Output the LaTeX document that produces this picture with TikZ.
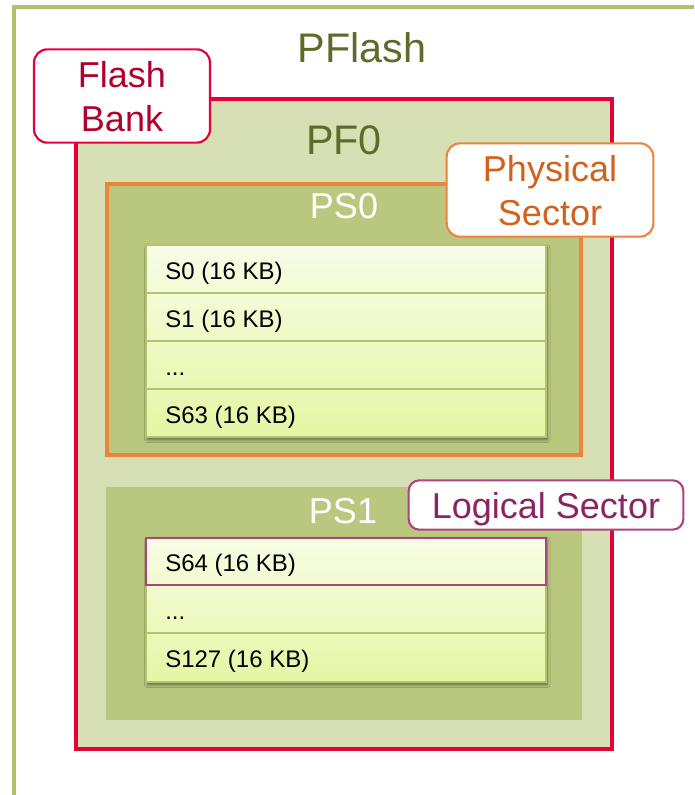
\documentclass[tikz,border=0pt]{standalone}
\usepackage{fontspec}
\setmainfont{Liberation Sans}
\usetikzlibrary{shadows.blur}
\definecolor{outergreen}{HTML}{AFC26B}
\definecolor{olivetext}{HTML}{5F6B2B}
\definecolor{bankred}{HTML}{E4003A}
\definecolor{banktext}{HTML}{B0002E}
\definecolor{pffill}{HTML}{D7DFB4}
\definecolor{psfill}{HTML}{BAC87F}
\definecolor{physorange}{HTML}{EE843C}
\definecolor{phystext}{HTML}{D2621B}
\definecolor{logpurple}{HTML}{AE437F}
\definecolor{logtext}{HTML}{8A2462}
\definecolor{rowtop}{HTML}{F8FDE6}
\definecolor{rowbot}{HTML}{E4F6A4}
\definecolor{rowline}{HTML}{B2C56C}
\tikzset{
  bigtitle/.style={font=\fontsize{31}{36}\selectfont, text=olivetext, anchor=base, inner sep=0pt},
  pstitle/.style={font=\fontsize{27}{32}\selectfont, text=white, anchor=base, inner sep=0pt},
  tagbox/.style={draw, fill=white, rounded corners=10pt, line width=1.6pt, align=center,
    font=\fontsize{27}{33}\selectfont, inner sep=0pt},
  rowtext/.style={font=\fontsize{18}{22}\selectfont, text=black, anchor=base west, inner sep=0pt},
  rowblock/.style={draw=rowline, line width=0.8pt, top color=rowtop, bottom color=rowbot,
    blur shadow={shadow xshift=1pt, shadow yshift=-2.2pt, shadow blur radius=2pt, shadow opacity=45}},
  sep/.style={draw=rowline, line width=1.5pt},
}
\begin{document}
\begin{tikzpicture}[x=0.75pt,y=-0.75pt]
\path[use as bounding box] (0,0) rectangle (694,795);
\fill[white] (0,0) rectangle (694,795);
% outer PFlash frame
\draw[outergreen, line width=3.4pt] (14,795) -- (14,7) -- (694,7);
\node[bigtitle] (pflash) at (362,63) {PFlash};
% flash bank PF0
\draw[bankred, line width=3pt, fill=pffill] (76,99) rectangle (612,749);
\node[bigtitle] (pf0) at (344,155) {PF0};
% PS0
\draw[physorange, line width=2.4pt, fill=psfill] (107,184) rectangle (581,455);
\node[pstitle] (ps0) at (344,218) {PS0};
% rows PS0
\path[rowblock] (146,245) rectangle (546,437);
\draw[sep] (147,293) -- (545,293);
\draw[sep] (147,341) -- (545,341);
\draw[sep] (147,389) -- (545,389);
\node[rowtext] (s0) at (165,279) {S0 (16 KB)};
\node[rowtext] (s1) at (165,327) {S1 (16 KB)};
\node[rowtext] (sd1) at (165,375) {...};
\node[rowtext] (s63) at (165,423) {S63 (16 KB)};
% PS1
\fill[psfill] (106,487) rectangle (582,720);
\node[pstitle] (ps1) at (343,523) {PS1};
\path[rowblock] (146,537) rectangle (546,682);
\draw[sep] (147,633) -- (545,633);
\draw[sep] (147,585) -- (545,585);
\draw[logpurple, line width=1.6pt] (146,538) rectangle (546,585);
\node[rowtext] (s64) at (165,571) {S64 (16 KB)};
\node[rowtext] (sd2) at (165,619) {...};
\node[rowtext] (s127) at (165,667) {S127 (16 KB)};
% tags
\node[tagbox, draw=bankred, text=banktext, minimum width=132pt, minimum height=70pt, text depth=-5pt] (fbank) at (122,96) {Flash\\Bank};
\node[tagbox, draw=physorange, text=phystext, minimum width=155pt, minimum height=70pt, text depth=-3pt] (phys) at (550,190) {Physical\\Sector};
\node[tagbox, draw=logpurple, text=logtext, minimum width=206pt, minimum height=37pt, rounded corners=8pt, text depth=-1pt] (logic) at (546,505) {Logical Sector};
\end{tikzpicture}
\end{document}
